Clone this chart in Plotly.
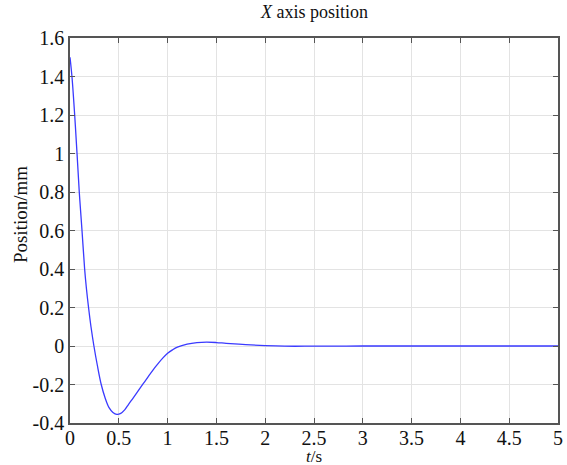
import plotly.graph_objects as go

t_vals = [0, 0.02, 0.048, 0.072, 0.095, 0.123, 0.15, 0.168, 0.19, 0.215, 0.245, 0.28, 0.32,
          0.36, 0.40, 0.44, 0.48, 0.52, 0.56, 0.6, 0.65, 0.7, 0.75, 0.8, 0.85, 0.9, 0.95,
          1.0, 1.05, 1.1, 1.2, 1.3, 1.4, 1.5, 1.6, 1.8, 2.0, 2.2, 2.5, 3.0, 3.5, 4.0, 4.5, 5.0]
pos_vals = [1.5, 1.4, 1.2, 1.0, 0.8, 0.6, 0.4, 0.3, 0.2, 0.1, 0.0, -0.1, -0.2,
            -0.27, -0.32, -0.345, -0.355, -0.35, -0.332, -0.303, -0.268, -0.232, -0.196,
            -0.16, -0.125, -0.093, -0.063, -0.038, -0.02, -0.006, 0.01, 0.018, 0.02, 0.018,
            0.014, 0.007, 0.002, -0.001, -0.001, 0, 0, 0, 0, 0]

x_ticks = [0, 0.5, 1, 1.5, 2, 2.5, 3, 3.5, 4, 4.5, 5]
x_tick_text = ["0", "0.5", "1", "1.5", "2", "2.5", "3", "3.5", "4", "4.5", "5"]
y_ticks = [-0.4, -0.2, 0, 0.2, 0.4, 0.6, 0.8, 1.0, 1.2, 1.4, 1.6]
y_tick_text = ["-0.4", "-0.2", "0", "0.2", "0.4", "0.6", "0.8", "1", "1.2", "1.4", "1.6"]

SERIF = "Times New Roman, Liberation Serif, Times, DejaVu Serif, serif"
TXT = "#111111"

fig = go.Figure()
fig.add_trace(go.Scatter(x=t_vals, y=pos_vals, mode="lines",
                         line=dict(color="#3a3aff", width=1.3, shape="spline", smoothing=1.0),
                         showlegend=False))

axis_common = dict(showline=True, linecolor="#555555", linewidth=1.5, mirror="ticks",
                   ticks="inside", ticklen=5, tickcolor="#555555", tickwidth=1,
                   showgrid=True, gridcolor="#e3e3e3", gridwidth=1, zeroline=False,
                   automargin=False,
                   tickfont=dict(family=SERIF, size=20, color=TXT))

fig.update_layout(
    width=567, height=465,
    margin=dict(l=70, r=9, t=38, b=42),
    paper_bgcolor="white", plot_bgcolor="white",
    font=dict(family=SERIF, size=18, color=TXT),
    xaxis=dict(range=[0, 5], tickvals=x_ticks, ticktext=x_tick_text,
               ticklabelstandoff=-4, **axis_common),
    yaxis=dict(range=[-0.4, 1.6], tickvals=y_ticks, ticktext=y_tick_text, **axis_common),
    annotations=[
        dict(text="<i>X</i> axis position", xref="paper", yref="paper", x=0.5, y=1.0,
             xanchor="center", yanchor="middle", yshift=26, showarrow=False,
             font=dict(family=SERIF, size=18, color=TXT)),
        dict(text="<i>t</i>/s", xref="paper", yref="paper", x=0.5, y=0.0,
             xanchor="center", yanchor="middle", yshift=-33, showarrow=False,
             font=dict(family=SERIF, size=17, color=TXT)),
        dict(text="Position/mm", xref="paper", yref="paper", x=0.0, y=0.54,
             xanchor="center", yanchor="middle", xshift=-50, textangle=-90, showarrow=False,
             font=dict(family=SERIF, size=19, color=TXT)),
    ],
)

fig.write_html("out.html")
